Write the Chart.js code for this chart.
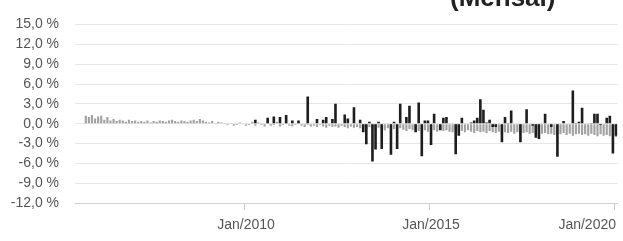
<!DOCTYPE html>
<html lang="pt-BR">
<head>
<meta charset="utf-8">
<script src="https://cdn.jsdelivr.net/npm/chart.js@4.4.1/dist/chart.umd.min.js"></script>
<style>
  html, body { margin: 0; padding: 0; background: #fff; overflow: hidden; }
  #wrap { position: relative; width: 623px; height: 241px; }
  #titulo {
    position: absolute; top: -16px; left: 450px;
    font: bold 26px "Liberation Sans", Arial, sans-serif; line-height: 26px;
    color: #222; white-space: nowrap;
  }
</style>
</head>
<body>
<div id="wrap">
  <canvas id="grafico" width="623" height="241"></canvas>
  <div id="titulo">(Mensal)</div>
</div>
<script>
// meses de jun/2005 a jan/2020
const nomesMeses = ['Jan', 'Fev', 'Mar', 'Abr', 'Mai', 'Jun', 'Jul', 'Ago', 'Set', 'Out', 'Nov', 'Dez'];
const mesInicial = 5;      // junho
const anoInicial = 2005;
const totalMeses = 176;

// rótulos que aparecem no eixo X
const rotulosEixo = ['Jan/2010', 'Jan/2015', 'Jan/2020'];

// série escura (variação mensal), uma linha por ano
const serieEscura = [
  null, null, null, null, null, null, null,                      // 2005 (jun-dez)
  null, null, null, null, null, null, null, null, null, null, null, null, // 2006
  null, null, null, null, null, null, null, null, null, null, null, null, // 2007
  null, null, null, null, null, null, null, null, null, null, null, null, // 2008
  null, null, null, null, null, null, null, null, null, null, null, null, // 2009
  null, null, null, 0.6, null, null, null, 0.9, null, 1.1, null, 1.0,     // 2010
  null, 1.3, null, 0.5, null, 0.5, null, null, 4.1, null, null, 0.7,      // 2011
  null, 0.6, 1.0, null, 0.7, 3.0, null, null, 1.4, 0.8, null, 2.5,        // 2012
  null, 0.6, -1.3, -3.1, 0.3, -5.7, -3.9, 0.3, -3.8, null, null, -4.7,    // 2013
  0.3, -3.8, 3.0, null, 1.0, 2.7, null, -1.3, 3.2, -4.9, 0.5, 0.5,        // 2014
  -3.2, 1.5, null, -1.0, 0.9, 1.0, null, null, -4.6, -1.8, 0.9, null,     // 2015
  null, 0.2, 0.5, 0.9, 3.7, 2.1, 0.2, 0.6, -0.5, -0.5, null, -2.8,        // 2016
  1.0, 0.1, 2.0, null, null, -2.8, null, 2.2, null, -0.3, -2.1, -2.3,     // 2017
  null, 1.5, null, -0.5, null, -5.0, null, 0.4, null, null, 5.0, 0.1,     // 2018
  0.3, 2.4, null, null, 0.1, 1.5, 1.5, -0.2, null, 0.9, 1.2, -4.5,        // 2019
  -1.8                                                                    // 2020
];

// série clara (pontilhada no original)
const serieClara = [
  null, null, null, 1.2, 1.0, 1.3, 0.8,
  1.1, 1.2, 0.6, 1.0, 0.5, 0.7, 0.4, 0.6, 0.5, 0.3, 0.6, 0.4,
  0.5, 0.3, 0.4, 0.3, 0.5, 0.2, 0.4, 0.3, 0.5, 0.4, 0.3, 0.5,
  0.6, 0.4, 0.3, 0.5, 0.4, 0.3, 0.5, 0.6, 0.4, 0.7, 0.5, 0.3,
  0.2, 0.4, 0.1, 0.3, 0.2, 0.1, -0.2, 0.1, -0.3, -0.2, 0.2, -0.1,
  -0.3, -0.2, 0.3, -0.3, 0.2, -0.2, -0.4, 0.2, -0.3, -0.2, 0.3, -0.4,
  -0.2, 0.2, -0.3, -0.4, -0.2, 0.2, -0.3, -0.5, -0.2, -0.4, -0.3, -0.5,
  -0.2, -0.4, -0.6, -0.3, -0.5, -0.4, -0.6, -0.3, -0.5, -0.7, -0.4, -0.6,
  -0.5, -0.7, -0.6, -0.8, -0.5, -0.7, -0.9, -0.6, -0.8, -1.0, -0.7, -0.9,
  -0.8, -1.0, -0.7, -0.9, -1.1, -0.8, -1.0, -0.9, -1.1, -0.8, -1.0, -1.2,
  -0.9, -1.0, -1.2, -0.9, -1.1, -1.0, -1.2, -1.3, -1.0, -1.2, -1.1, -1.3,
  -1.0, -1.2, -1.4, -1.1, -1.3, -1.2, -1.4, -1.1, -1.3, -1.4, -1.2, -1.5,
  -1.3, -1.4, -1.2, -1.5, -1.3, -1.6, -1.4, -1.3, -1.5, -1.4, -1.6, -1.3,
  -1.5, -1.4, -1.6, -1.5, -1.7, -1.5, -1.6, -1.4, -1.7, -1.5, -1.8, -1.6,
  -1.5, -1.7, -1.6, -1.8, -1.5, -1.7, -1.9, -1.6, -1.8, -1.7, -1.9, -1.8,
  -2.0
];

const categorias = [];
for (let i = 0; i < totalMeses; i++) {
  const m = (mesInicial + i) % 12;
  const a = anoInicial + Math.floor((mesInicial + i) / 12);
  categorias.push(nomesMeses[m] + '/' + a);
}

const fonte = { family: '"Liberation Sans", Arial, sans-serif', size: 14 };

new Chart(document.getElementById('grafico'), {
  type: 'bar',
  data: {
    labels: categorias,
    datasets: [
      {
        label: 'Variação',
        data: serieEscura,
        backgroundColor: '#1e1e1e',
        grouped: false,
        barPercentage: 0.85,
        categoryPercentage: 1,
        order: 0
      },
      {
        label: 'Referência',
        data: serieClara,
        backgroundColor: '#a2a2a2',
        grouped: false,
        barPercentage: 0.7,
        categoryPercentage: 1,
        order: 1
      }
    ]
  },
  options: {
    responsive: false,
    animation: false,
    layout: { padding: { top: 8, right: 5, bottom: 0, left: 0 } },
    plugins: {
      legend: { display: false },
      tooltip: { enabled: false },
      title: { display: false }
    },
    scales: {
      x: {
        ticks: {
          autoSkip: false,
          maxRotation: 0,
          minRotation: 0,
          align: 'inner',
          padding: 7,
          color: '#555',
          font: fonte,
          callback: (v, i) => rotulosEixo.includes(categorias[i]) ? categorias[i] : ''
        },
        grid: {
          drawOnChartArea: false,
          drawTicks: true,
          tickLength: 7,
          color: ctx => rotulosEixo.includes(categorias[ctx.index]) ? '#c8c8c8' : 'rgba(0,0,0,0)'
        },
        border: { display: true, color: '#d0d0d0' }
      },
      y: {
        min: -12,
        max: 15,
        afterFit: s => { s.width = 75; },
        ticks: {
          stepSize: 3,
          padding: 16,
          color: '#555',
          font: fonte,
          callback: v => v.toFixed(1).replace('.', ',') + ' %'
        },
        grid: { color: '#e6e6e6', drawTicks: false },
        border: { display: false }
      }
    }
  }
});
</script>
</body>
</html>
